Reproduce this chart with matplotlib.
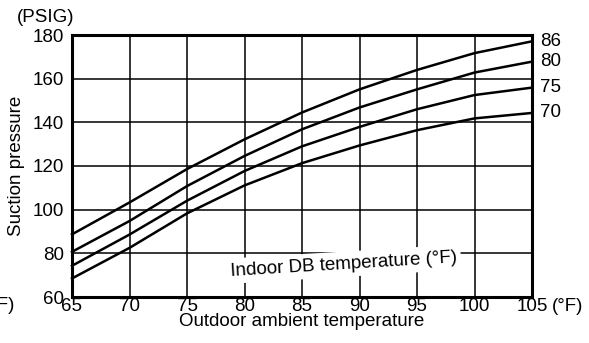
import matplotlib.pyplot as plt
import numpy as np

plt.rcParams['font.family'] = ['Liberation Sans', 'DejaVu Sans']

# outdoor ambient temperature (°F)
outdoor = [65, 70, 75, 80, 85, 90, 95, 100, 105]

# suction pressure (PSIG) per indoor DB temperature
indoor_labels = ["86", "80", "75", "70"]
p86 = [88.7, 103.3, 118.6, 132.2, 144.5, 155.1, 164.0, 171.7, 177.1]
p80 = [80.7, 94.8, 110.8, 124.6, 136.8, 146.8, 155.1, 162.8, 167.8]
p75 = [74.3, 88.6, 104.1, 117.7, 129.0, 137.9, 146.0, 152.5, 155.9]
p70 = [68.5, 82.5, 98.3, 111.1, 121.3, 129.4, 136.4, 141.8, 144.3]
curves = [p86, p80, p75, p70]

x_ticks = [65, 70, 75, 80, 85, 90, 95, 100, 105]
y_ticks = [60, 80, 100, 120, 140, 160, 180]

fig = plt.figure(figsize=(5.89, 3.43), dpi=100)
ax = fig.add_axes([72 / 589, 46 / 343, 460 / 589, 262 / 343])

ax.set_xlim(65, 105)
ax.set_ylim(60, 180)
ax.set_xticks(x_ticks)
ax.set_yticks(y_ticks)
ax.grid(True, color="black", linewidth=1.1)
ax.set_axisbelow(True)
ax.tick_params(axis="x", length=0, labelsize=13.5, pad=0.5)
ax.tick_params(axis="y", length=0, labelsize=13.5, pad=6)
for s in ax.spines.values():
    s.set_linewidth(2.2)

for label, ys in zip(indoor_labels, curves):
    ax.plot(outdoor, ys, color="black", linewidth=1.8, clip_on=False)
    ax.annotate(label, (outdoor[-1], ys[-1]), xytext=(6, 0),
                textcoords="offset points", va="center", ha="left", fontsize=13.5)

ax.text(88.6, 75.0, "Indoor DB temperature (°F)", fontsize=13.5, rotation=3.5,
        ha="center", va="center",
        bbox=dict(facecolor="white", edgecolor="none", pad=3))

ax.set_xlabel("Outdoor ambient temperature", fontsize=13.5, labelpad=-1)
ax.set_ylabel("Suction pressure", fontsize=13.5, labelpad=5)

fig.text(17 / 589, 1 - 17 / 343, "(PSIG)", fontsize=13.5, ha="left", va="center")
fig.text(15 / 589, 1 - 305 / 343, "(°F)", fontsize=13.5, ha="right", va="center")
ax.annotate("(°F)", (105, 60), xytext=(14, -1), textcoords="offset points",
            ha="left", va="top", fontsize=13.5, annotation_clip=False)

fig.savefig("out.png", dpi=100)
